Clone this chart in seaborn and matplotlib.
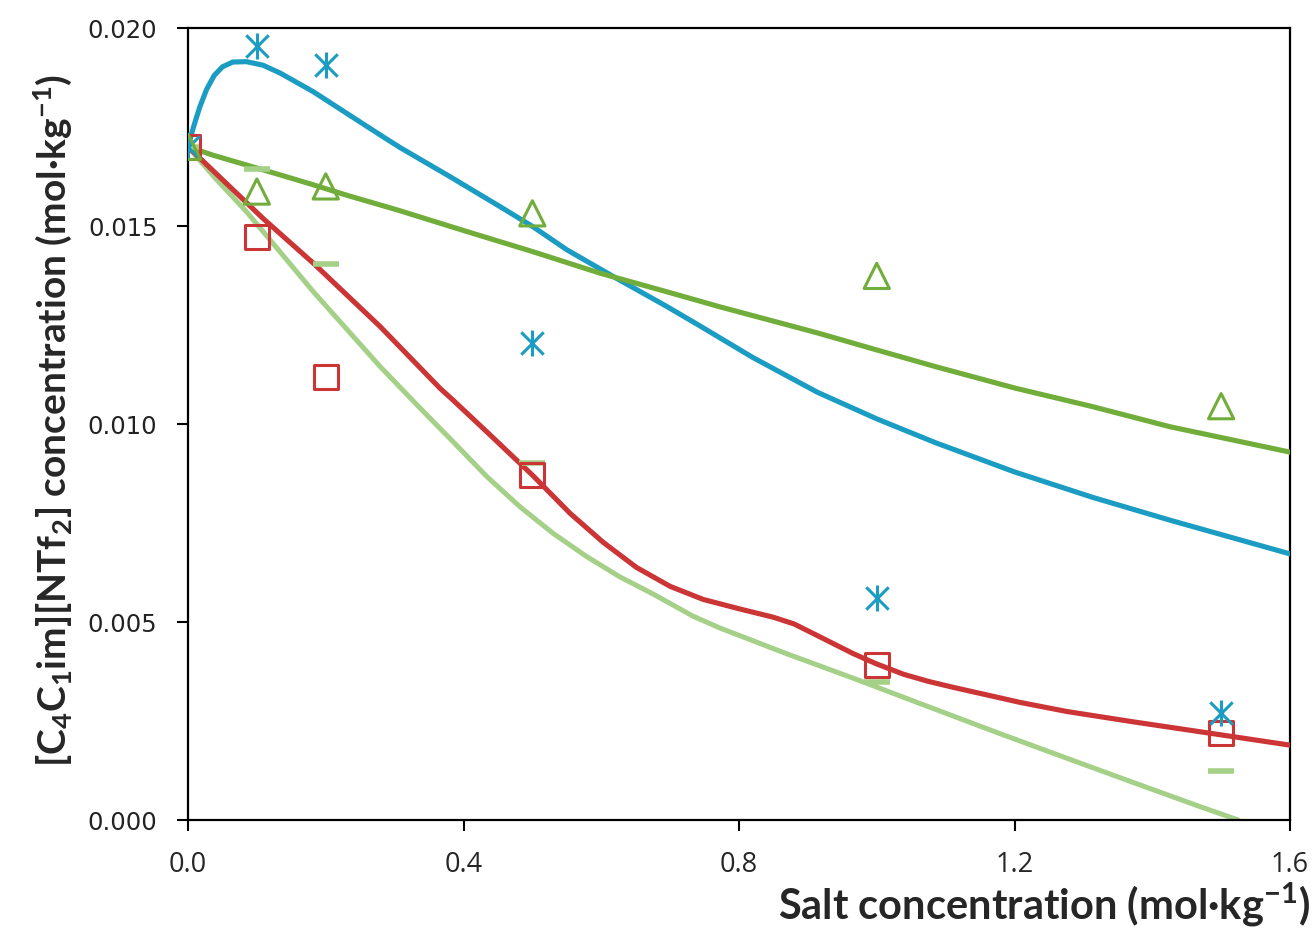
import matplotlib
matplotlib.use("Agg")
import matplotlib.pyplot as plt
import seaborn as sns

# ---------------- data ----------------
salt = [0.0, 0.1, 0.2, 0.5, 1.0, 1.5]
il_star = [0.0170, 0.01955, 0.01907, 0.01205, 0.00560, 0.00270]
il_triangle = [0.0170, 0.01587, 0.01600, 0.01532, 0.01374, 0.01045]
il_square = [0.0170, 0.01473, 0.01119, 0.00871, 0.00391, 0.00220]
il_dash = [0.0170, 0.01645, 0.01404, 0.00902, 0.00349, 0.00125]

blue_x = [0.0, 0.008, 0.017, 0.027, 0.038, 0.050, 0.065, 0.085, 0.109, 0.134, 0.182, 0.230,
          0.279, 0.308, 0.380, 0.453, 0.501, 0.550, 0.622, 0.695, 0.743, 0.820, 0.914, 1.0,
          1.085, 1.2, 1.313, 1.426, 1.6]
blue_y = [0.0170, 0.01750, 0.01800, 0.01845, 0.01880, 0.01902, 0.01914, 0.01915, 0.01906,
          0.01886, 0.01839, 0.01785, 0.01730, 0.01698, 0.01625, 0.01549, 0.01498, 0.01440,
          0.01368, 0.01297, 0.01248, 0.01168, 0.01080, 0.01013, 0.00953, 0.00879, 0.00815,
          0.00757, 0.00672]

green_x = [0.0, 0.036, 0.085, 0.134, 0.182, 0.230, 0.305, 0.405, 0.501, 0.598, 0.695,
           0.772, 0.914, 1.0, 1.085, 1.2, 1.313, 1.426, 1.6]
green_y = [0.0170, 0.01679, 0.01654, 0.01629, 0.01604, 0.01578, 0.01540, 0.01486, 0.01435,
           0.01381, 0.01334, 0.01296, 0.01230, 0.01187, 0.01145, 0.01091, 0.01044, 0.00993,
           0.00929]

red_x = [0.0, 0.109, 0.182, 0.279, 0.366, 0.385, 0.434, 0.5, 0.555, 0.603, 0.651, 0.700,
         0.748, 0.801, 0.850, 0.880, 0.918, 0.966, 1.0, 1.039, 1.075, 1.111, 1.208, 1.276,
         1.372, 1.469, 1.6]
red_y = [0.0170, 0.01519, 0.01406, 0.01246, 0.01090, 0.01060, 0.00980, 0.00871, 0.00774,
         0.00701, 0.00638, 0.00590, 0.00557, 0.00533, 0.00512, 0.00495, 0.00462, 0.00420,
         0.00394, 0.00368, 0.00350, 0.00335, 0.00297, 0.00274, 0.00248, 0.00223, 0.00189]

lgreen_x = [0.0, 0.040, 0.085, 0.182, 0.279, 0.337, 0.385, 0.434, 0.482, 0.530, 0.579,
            0.627, 0.676, 0.733, 0.772, 0.869, 0.966, 1.063, 1.179, 1.276, 1.372, 1.469, 1.525]
lgreen_y = [0.0170, 0.01620, 0.01536, 0.01334, 0.01145, 0.01040, 0.00955, 0.00867, 0.00791,
            0.00724, 0.00665, 0.00614, 0.00570, 0.00515, 0.00485, 0.00420, 0.00358, 0.00294,
            0.00218, 0.00156, 0.00095, 0.00034, 0.0]

x_ticks = [0.0, 0.4, 0.8, 1.2, 1.6]
x_ticklabels = ["0.0", "0.4", "0.8", "1.2", "1.6"]
y_ticks = [0.000, 0.005, 0.010, 0.015, 0.020]
y_ticklabels = ["0.000", "0.005", "0.010", "0.015", "0.020"]

BLUE = "#1b9cc3"
GREEN = "#70ad3a"
RED = "#cc3535"
LGREEN = "#a4d087"

# ---------------- figure ----------------
sns.set_style("ticks")
plt.rcParams["mathtext.default"] = "regular"

fig = plt.figure(figsize=(13.13, 9.49), dpi=100)
ax = fig.add_axes([188 / 1313, 1 - 820 / 949, 1102 / 1313, 792 / 949])

sns.lineplot(x=lgreen_x, y=lgreen_y, color=LGREEN, linewidth=3.6, estimator=None, sort=False, ax=ax, zorder=2)
sns.lineplot(x=red_x, y=red_y, color=RED, linewidth=3.7, estimator=None, sort=False, ax=ax, zorder=3)
sns.lineplot(x=blue_x, y=blue_y, color=BLUE, linewidth=3.7, estimator=None, sort=False, ax=ax, zorder=3)
sns.lineplot(x=green_x, y=green_y, color=GREEN, linewidth=3.7, estimator=None, sort=False, ax=ax, zorder=4)

sns.scatterplot(x=salt, y=il_dash, marker="_", s=360, color=LGREEN, linewidth=4.0, ax=ax, zorder=5)
sns.scatterplot(x=salt, y=il_square, marker="s", s=300, facecolor="none", edgecolor=RED, linewidth=2.2, ax=ax, zorder=6)
sns.scatterplot(x=salt, y=il_star, marker="x", s=260, color=BLUE, linewidth=2.2, ax=ax, zorder=7)
sns.scatterplot(x=salt, y=il_star, marker="|", s=330, color=BLUE, linewidth=2.2, ax=ax, zorder=7)
sns.scatterplot(x=salt, y=il_triangle, marker="^", s=330, facecolor="none", edgecolor=GREEN, linewidth=2.2, ax=ax, zorder=8)

ax.set_xlim(0, 1.6)
ax.set_ylim(0, 0.020)
ax.set_xticks(x_ticks)
ax.set_xticklabels(x_ticklabels, fontfamily="Open Sans", fontsize=19.5)
ax.set_yticks(y_ticks)
ax.set_yticklabels(y_ticklabels, fontfamily="DejaVu Sans", fontsize=17.5, color="#222222")
ax.tick_params(axis="both", direction="out", length=8, width=1.5, color="black")
ax.tick_params(axis="x", pad=14)
ax.tick_params(axis="y", pad=14)
for sp in ax.spines.values():
    sp.set_visible(True)
    sp.set_linewidth(1.6)
    sp.set_color("black")

ax.set_xlabel("Salt concentration (mol\u00b7kg$^{-1}$)", fontfamily="Lato", fontweight="bold",
              fontsize=30, ha="right", va="center")
ax.xaxis.set_label_coords(1.018, -0.107)
ax.set_ylabel("[C$_4$C$_1$im][NTf$_2$] concentration (mol\u00b7kg$^{-1}$)", fontfamily="Lato",
              fontweight="bold", fontsize=28, ha="center", va="center")
ax.yaxis.set_label_coords(-0.123, 0.505)

fig.savefig("out.png", dpi=100)
